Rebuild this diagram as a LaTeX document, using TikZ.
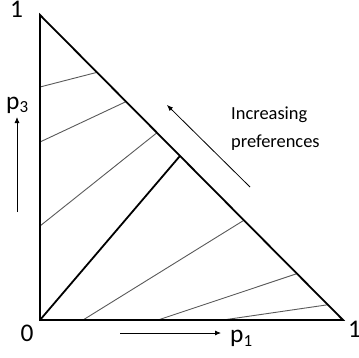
\documentclass[tikz,border=0pt]{standalone}
\usepackage{fontspec}
\setmainfont{Carlito}
\usetikzlibrary{calc,arrows.meta}
\begin{document}
\begin{tikzpicture}[x=1bp,y=-1bp,
  edge/.style={line width=1.8bp,black},
  iso/.style={line width=0.9bp,black!65},
  axarrow/.style={line width=0.8bp,black,-{Latex[length=6bp,width=5bp]}},
  big/.style={inner sep=0pt,font=\fontsize{25.5}{25.5}\selectfont},
  small/.style={inner sep=0pt,font=\fontsize{18.5}{18.5}\selectfont,anchor=base west}]
\useasboundingbox (0,0) rectangle (359,358);
\coordinate (O) at (40,320);
\coordinate (T) at (40,15);
\coordinate (R) at (343,320);
% iso-preference lines
\coordinate (a1) at (40,87);   \coordinate (b1) at ($(T)!0.188!(R)$);
\coordinate (a2) at (40,142);  \coordinate (b2) at ($(T)!0.284!(R)$);
\coordinate (a3) at (40,226);  \coordinate (b3) at ($(T)!0.386!(R)$);
\coordinate (a4) at (83,320);  \coordinate (b4) at ($(T)!0.673!(R)$);
\coordinate (a5) at (158,320); \coordinate (b5) at ($(T)!0.848!(R)$);
\coordinate (a6) at (223,320); \coordinate (b6) at ($(T)!0.950!(R)$);
\coordinate (M) at ($(T)!0.462!(R)$);
\foreach \i in {1,...,6} {\draw[iso] (a\i) -- (b\i);}
\draw[edge] (O) -- (M);
\draw[edge,line join=miter] (T) -- (O) -- (R) -- cycle;
% arrows
\coordinate (p3s) at (17,212); \coordinate (p3e) at (17,117);
\coordinate (p1s) at (120,333); \coordinate (p1e) at (221,333);
\coordinate (ips) at (250,187); \coordinate (ipe) at (167,105);
\draw[axarrow] (p3s) -- (p3e);
\draw[axarrow] (p1s) -- (p1e);
\draw[axarrow] (ips) -- (ipe);
% labels
\node[big,anchor=base] (l1t) at (16.5,17.5) {1};
\node[big,anchor=base] (l0) at (27,341.5) {0};
\node[big,anchor=base west] (l1r) at (348,337.5) {1};
\node[big,anchor=base west] (lp3) at (6,109.5) {p\raisebox{-3bp}{\fontsize{17}{17}\selectfont 3}};
\node[big,anchor=base west] (lp1) at (230,342.5) {p\raisebox{-4bp}{\fontsize{17}{17}\selectfont 1}};
\node[small] (inc) at (231,119.5) {Increasing};
\node[small] (pref) at (231,147.5) {preferences};
\end{tikzpicture}
\end{document}
